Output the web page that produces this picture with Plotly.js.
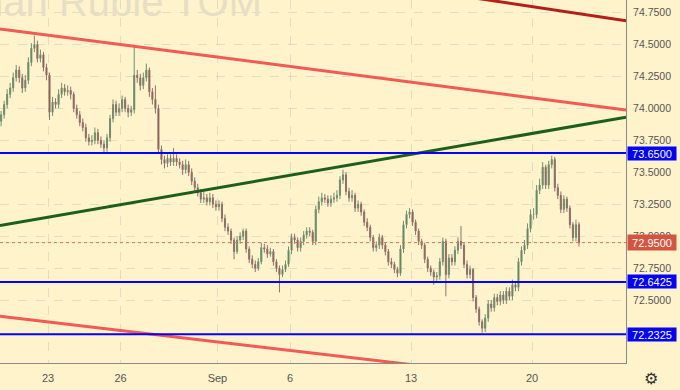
<!DOCTYPE html>
<html>
<head>
<meta charset="utf-8">
<script src="https://cdn.plot.ly/plotly-3.0.1.min.js"></script>
<style>html,body{margin:0;padding:0;background:#fff3cc;}#chart{width:680px;height:390px;}</style>
</head>
<body>
<div id="chart"></div>
<script>
// Trading days (weekends skipped), 8 bars per day
const days = ['Aug 19','Aug 20','Aug 23','Aug 24','Aug 25','Aug 26','Aug 27','Aug 30','Aug 31',
  'Sep 1','Sep 2','Sep 3','Sep 6','Sep 7','Sep 8','Sep 9','Sep 10','Sep 13','Sep 14','Sep 15',
  'Sep 16','Sep 17','Sep 20','Sep 21'];
const barsPerDay = 8;
const tickDays = ['Aug 23','Aug 26','Sep 1','Sep 6','Sep 13','Sep 20'];
const tickLabels = ['23','26','Sep','6','13','20'];

const opens = [
 73.90,73.95,74.03,74.11,74.16,74.24,74.30,74.24,
 74.16,74.22,74.36,74.47,74.50,74.39,74.42,74.32,
 74.26,73.97,74.05,74.03,74.11,74.16,74.13,74.14,
 74.11,74.00,73.95,73.89,73.85,73.77,73.74,73.75,
 73.81,73.75,73.72,73.69,73.77,73.92,74.03,73.97,
 74.00,74.07,74.00,73.97,73.99,74.26,74.24,74.18,
 74.24,74.30,74.13,74.07,74.00,73.68,73.60,73.57,
 73.61,73.58,73.61,73.58,73.56,73.52,73.56,73.50,
 73.43,73.38,73.34,73.29,73.30,73.27,73.30,73.25,
 73.23,73.25,73.14,73.07,73.04,72.97,72.88,72.97,
 73.00,73.04,72.90,72.82,72.78,72.75,72.80,72.91,
 72.90,72.86,72.88,72.80,72.75,72.70,72.74,72.78,
 72.89,72.99,72.97,72.91,72.96,73.01,73.04,73.03,
 72.96,73.21,73.27,73.30,73.29,73.26,73.29,73.30,
 73.32,73.44,73.48,73.35,73.30,73.32,73.22,73.25,
 73.19,73.11,73.07,72.99,72.91,72.93,72.99,72.93,
 72.88,72.80,72.78,72.74,72.71,72.90,73.09,73.17,
 73.19,73.11,73.04,72.96,72.93,72.82,72.75,72.72,
 72.68,72.69,72.80,72.96,72.70,72.83,72.80,72.89,
 72.96,72.93,72.78,72.70,72.74,72.52,72.43,72.33,
 72.28,72.36,72.47,72.44,72.52,72.49,72.54,72.50,
 72.57,72.53,72.62,72.60,72.80,72.89,72.93,73.06,
 73.17,73.17,73.36,73.40,73.54,73.40,73.56,73.60,
 73.38,73.32,73.21,73.29,73.22,73.09,72.99,73.09];
const highs = [
 73.98,74.06,74.15,74.20,74.28,74.34,74.33,74.27,
 74.26,74.40,74.51,74.57,74.53,74.46,74.44,74.35,
 74.28,74.09,74.08,74.15,74.20,74.19,74.18,74.17,
 74.13,74.03,73.98,73.92,73.88,73.80,73.79,73.85,
 73.84,73.78,73.75,73.80,73.95,74.07,74.06,74.04,
 74.10,74.09,74.03,74.02,74.49,74.30,74.27,74.28,
 74.35,74.32,74.16,74.18,74.03,73.71,73.63,73.64,
 73.64,73.69,73.64,73.61,73.59,73.60,73.59,73.53,
 73.46,73.41,73.37,73.35,73.33,73.34,73.33,73.28,
 73.28,73.27,73.17,73.10,73.06,72.99,73.00,73.03,
 73.06,73.06,72.92,72.85,72.81,72.83,72.95,72.94,
 72.93,72.91,72.90,72.82,72.77,72.77,72.81,72.92,
 73.02,73.02,72.99,72.99,73.04,73.07,73.07,73.05,
 73.24,73.31,73.34,73.33,73.32,73.32,73.34,73.36,
 73.47,73.52,73.50,73.38,73.36,73.34,73.28,73.27,
 73.21,73.14,73.09,73.01,72.96,73.02,73.01,72.95,
 72.90,72.83,72.80,72.76,72.93,73.12,73.20,73.22,
 73.21,73.13,73.06,72.98,72.95,72.84,72.77,72.74,
 72.72,72.83,72.99,72.98,72.86,72.86,72.92,72.99,
 73.08,72.95,72.81,72.77,72.75,72.54,72.45,72.35,
 72.39,72.50,72.50,72.55,72.55,72.57,72.57,72.60,
 72.60,72.66,72.65,72.83,72.92,72.97,73.10,73.21,
 73.22,73.40,73.45,73.58,73.56,73.59,73.63,73.62,
 73.41,73.35,73.32,73.31,73.24,73.11,73.13,73.11];
const lows = [
 73.86,73.92,74.00,74.08,74.13,74.21,74.20,74.12,
 74.13,74.19,74.33,74.44,74.36,74.36,74.29,74.22,
 73.91,73.94,74.00,74.00,74.08,74.10,74.10,74.07,
 73.97,73.92,73.86,73.82,73.74,73.71,73.71,73.72,
 73.72,73.69,73.65,73.66,73.74,73.89,73.94,73.94,
 73.97,73.97,73.93,73.94,73.96,74.20,74.14,74.15,
 74.21,74.09,74.03,73.96,73.65,73.56,73.53,73.54,
 73.55,73.55,73.55,73.53,73.48,73.49,73.47,73.40,
 73.35,73.31,73.26,73.26,73.24,73.24,73.22,73.20,
 73.20,73.11,73.04,73.01,72.94,72.82,72.86,72.94,
 72.97,72.87,72.79,72.75,72.72,72.73,72.78,72.87,
 72.83,72.84,72.77,72.72,72.56,72.68,72.72,72.76,
 72.86,72.94,72.88,72.88,72.93,72.98,73.00,72.93,
 72.93,73.18,73.24,73.26,73.23,73.23,73.26,73.27,
 73.29,73.41,73.32,73.27,73.27,73.19,73.19,73.16,
 73.08,73.04,72.96,72.88,72.88,72.90,72.90,72.85,
 72.77,72.75,72.71,72.68,72.69,72.87,73.06,73.14,
 73.08,73.01,72.93,72.90,72.79,72.72,72.69,72.62,
 72.65,72.66,72.77,72.53,72.67,72.77,72.77,72.86,
 72.90,72.75,72.67,72.67,72.49,72.40,72.30,72.245,
 72.25,72.33,72.41,72.41,72.46,72.46,72.47,72.47,
 72.50,72.50,72.57,72.57,72.77,72.86,72.90,73.03,
 73.13,73.14,73.33,73.37,73.37,73.37,73.53,73.35,
 73.29,73.18,73.18,73.19,73.06,72.96,72.96,72.92];
const closes = [
 73.95,74.03,74.11,74.16,74.24,74.30,74.24,74.16,
 74.22,74.36,74.47,74.50,74.39,74.42,74.32,74.26,
 73.97,74.05,74.03,74.11,74.16,74.13,74.14,74.11,
 74.00,73.95,73.89,73.85,73.77,73.74,73.75,73.81,
 73.75,73.72,73.69,73.77,73.92,74.03,73.97,74.00,
 74.07,74.00,73.97,73.99,74.26,74.24,74.18,74.24,
 74.30,74.13,74.07,74.00,73.68,73.60,73.57,73.61,
 73.58,73.61,73.58,73.56,73.52,73.56,73.50,73.43,
 73.38,73.34,73.29,73.30,73.27,73.30,73.25,73.23,
 73.25,73.14,73.07,73.04,72.97,72.88,72.97,73.00,
 73.04,72.90,72.82,72.78,72.75,72.80,72.91,72.90,
 72.86,72.88,72.80,72.75,72.70,72.74,72.78,72.89,
 72.99,72.97,72.91,72.96,73.01,73.04,73.03,72.96,
 73.21,73.27,73.30,73.29,73.26,73.29,73.30,73.32,
 73.44,73.48,73.35,73.30,73.32,73.22,73.25,73.19,
 73.11,73.07,72.99,72.91,72.93,72.99,72.93,72.88,
 72.80,72.78,72.74,72.71,72.90,73.09,73.17,73.19,
 73.11,73.04,72.96,72.93,72.82,72.75,72.72,72.68,
 72.69,72.80,72.96,72.70,72.83,72.80,72.89,72.96,
 72.93,72.78,72.70,72.74,72.52,72.43,72.33,72.28,
 72.36,72.47,72.44,72.52,72.49,72.54,72.50,72.57,
 72.53,72.62,72.60,72.80,72.89,72.93,73.06,73.17,
 73.17,73.36,73.40,73.54,73.40,73.56,73.60,73.38,
 73.32,73.21,73.29,73.22,73.09,72.99,73.09,72.95];

// Horizontal levels
const levels = [73.65, 72.6425, 72.2325];
const levelLabels = ['73.6500','72.6425','72.2325'];
const lastPrice = 72.95;
const lastPriceLabel = '72.9500';

// Trend lines: [x in trading-day units, price]
const upperRedX = [-1.983, 23.88], upperRedY = [74.621, 73.988];
const darkRedX = [16.0, 23.88], darkRedY = [74.910, 74.686];
const lowerRedX = [-1.983, 18.0], lowerRedY = [72.373, 71.929];
const greenX = [-1.983, 23.88], greenY = [73.084, 73.931];

const xRange = [-1.983, 23.88];
const yRange = [72.008, 74.848];
const yTicks = [72.5,72.75,73.0,73.25,73.5,73.75,74.0,74.25,74.5,74.75];

// day index relative to Aug 23
const dayIdx = d => days.indexOf(d) - 2;
const xs = opens.map((_, i) => dayIdx(days[Math.floor(i / barsPerDay)]) + ((i % barsPerDay) + 0.5) / barsPerDay);

const traces = [];
traces.push({type:'scatter', mode:'lines', x:upperRedX, y:upperRedY, line:{color:'#f15a55', width:3}, hoverinfo:'skip'});
traces.push({type:'scatter', mode:'lines', x:darkRedX, y:darkRedY, line:{color:'#b3201c', width:3}, hoverinfo:'skip'});
traces.push({type:'scatter', mode:'lines', x:lowerRedX, y:lowerRedY, line:{color:'#f15a55', width:3}, hoverinfo:'skip'});
traces.push({type:'scatter', mode:'lines', x:greenX, y:greenY, line:{color:'#1d5e1d', width:3}, hoverinfo:'skip'});
levels.forEach(v => traces.push({type:'scatter', mode:'lines', x:xRange, y:[v, v], line:{color:'#0000ff', width:2}, hoverinfo:'skip'}));
traces.push({type:'scatter', mode:'lines', x:xRange, y:[lastPrice, lastPrice], line:{color:'#e07050', width:1, dash:'dot'}, hoverinfo:'skip'});
traces.push({type:'candlestick', x:xs, open:opens, high:highs, low:lows, close:closes,
  increasing:{line:{color:'#6f8f6f', width:1}, fillcolor:'#3f7a3f'},
  decreasing:{line:{color:'#8f706a', width:1}, fillcolor:'#8a3a30'},
  whiskerwidth:0, hoverinfo:'skip'});

const annotations = [];
annotations.push({xref:'paper', yref:'paper', x:264/626, y:1 - 2/363, xanchor:'right', yanchor:'middle',
  text:'US Dollar/Russian Ruble TOM', showarrow:false,
  font:{family:'Liberation Sans, Arial, sans-serif', size:40, color:'#e8dec4'}});
levels.forEach((v, i) => annotations.push({xref:'paper', yref:'y', x:1, y:v, xanchor:'left', yanchor:'middle', xshift:1,
  text:levelLabels[i], showarrow:false, bgcolor:'#0000ff', width:48, height:13, borderpad:0,
  font:{family:'Liberation Sans, Arial, sans-serif', size:11, color:'#ffffff'}}));
annotations.push({xref:'paper', yref:'y', x:1, y:lastPrice, xanchor:'left', yanchor:'middle', xshift:1,
  text:lastPriceLabel, showarrow:false, bgcolor:'#d4553f', width:48, height:15, borderpad:0,
  font:{family:'Liberation Sans, Arial, sans-serif', size:11, color:'#ffffff'}});
annotations.push({xref:'paper', yref:'paper', x:1, y:0, xanchor:'left', yanchor:'top', xshift:16, yshift:-4,
  text:'⚙', showarrow:false, font:{family:'DejaVu Sans', size:16, color:'#333'}});

const layout = {
  width:680, height:390,
  margin:{l:0, r:54, t:0, b:27},
  paper_bgcolor:'#fff3cc', plot_bgcolor:'#fff3cc',
  showlegend:false,
  dragmode:false,
  boxgap:0.5,
  xaxis:{range:xRange, tickvals:tickDays.map(dayIdx), ticktext:tickLabels,
    showgrid:true, gridcolor:'rgba(150,150,150,0.25)', griddash:'dash', gridwidth:1,
    showline:true, linecolor:'#8a8a84', linewidth:1, zeroline:false,
    ticks:'outside', ticklen:5, tickcolor:'rgba(0,0,0,0)',
    tickfont:{family:'Liberation Sans, Arial, sans-serif', size:11, color:'#555'},
    rangeslider:{visible:false}, fixedrange:true},
  yaxis:{range:yRange, side:'right', tickvals:yTicks, tickformat:'.4f',
    showgrid:true, gridcolor:'rgba(150,150,150,0.25)', griddash:'dash', gridwidth:1,
    showline:true, linecolor:'#8a8a84', linewidth:1, zeroline:false, mirror:false,
    ticks:'outside', ticklen:4, tickcolor:'rgba(0,0,0,0)',
    tickfont:{family:'Liberation Sans, Arial, sans-serif', size:10.5, color:'#555'}, fixedrange:true},
  annotations:annotations
};
Plotly.newPlot('chart', traces, layout, {displayModeBar:false, staticPlot:true});
</script>
</body>
</html>
